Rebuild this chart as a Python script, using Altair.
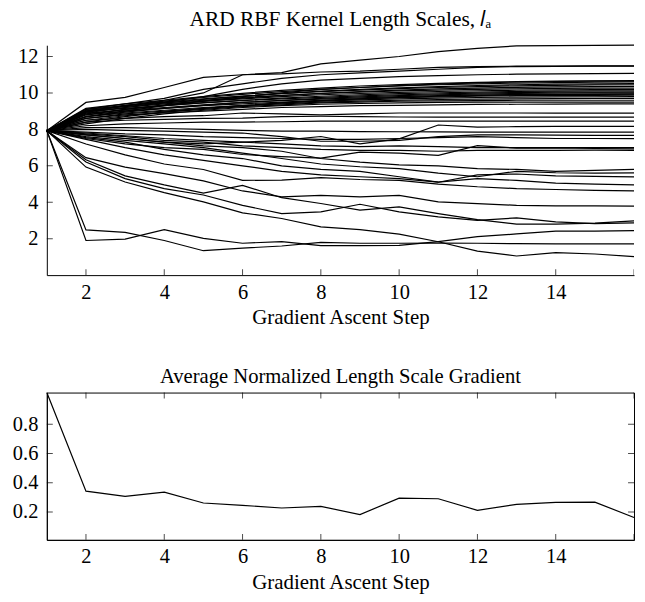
import altair as alt
import pandas as pd

steps = list(range(1, 17))

# ---- length-scale trajectories (one list per input dimension) ----
ls_01 = [7.93, 1.90, 1.98, 2.50, 2.02, 1.75, 1.84, 1.62, 1.62, 1.63, 1.84, 2.11, 2.26, 2.42, 2.42, 2.44]
ls_02 = [7.93, 2.48, 2.35, 1.90, 1.34, 1.48, 1.60, 1.80, 1.75, 1.75, 1.76, 1.75, 1.73, 1.72, 1.72, 1.71]
ls_03 = [7.93, 5.93, 5.11, 4.53, 4.02, 3.42, 3.11, 2.65, 2.50, 2.25, 1.83, 1.32, 1.05, 1.23, 1.16, 1.02]
ls_04 = [7.93, 6.21, 5.30, 4.75, 4.40, 3.83, 3.38, 3.47, 3.89, 3.47, 3.20, 3.01, 3.14, 2.92, 2.83, 2.87]
ls_05 = [7.93, 6.33, 5.45, 4.95, 4.50, 4.93, 4.25, 3.93, 3.57, 3.75, 3.38, 3.05, 2.80, 2.80, 2.85, 2.98]
ls_06 = [7.93, 6.45, 5.93, 5.57, 5.17, 4.62, 4.30, 4.38, 4.30, 4.38, 4.02, 3.93, 3.83, 3.80, 3.80, 3.79]
ls_07 = [7.93, 7.20, 6.60, 6.10, 5.80, 5.20, 5.22, 5.35, 5.25, 5.20, 5.00, 4.85, 4.75, 4.70, 4.65, 4.62]
ls_08 = [7.93, 7.45, 7.00, 6.60, 6.30, 6.00, 5.70, 5.50, 5.40, 5.30, 5.10, 5.30, 5.20, 5.05, 5.00, 4.95]
ls_09 = [7.93, 7.55, 7.30, 6.90, 6.60, 6.40, 6.00, 5.80, 5.70, 5.40, 5.10, 5.50, 5.55, 5.45, 5.42, 5.39]
ls_10 = [7.93, 7.60, 7.40, 7.20, 7.00, 6.70, 6.40, 6.10, 5.95, 5.85, 5.60, 5.40, 5.70, 5.62, 5.60, 5.61]
ls_11 = [7.93, 7.70, 7.50, 7.30, 7.10, 7.00, 6.80, 6.40, 6.20, 6.05, 6.00, 5.85, 5.80, 5.70, 5.75, 5.81]
ls_12 = [7.93, 7.75, 7.60, 7.40, 7.30, 7.10, 7.00, 6.90, 6.85, 6.85, 6.80, 6.85, 6.85, 6.85, 6.86, 6.85]
ls_13 = [7.93, 7.50, 7.20, 7.00, 6.90, 6.62, 6.50, 6.42, 6.75, 6.70, 6.57, 7.11, 6.97, 6.99, 6.95, 6.93]
ls_14 = [7.93, 7.80, 7.65, 7.50, 7.40, 7.30, 7.20, 7.10, 7.05, 7.10, 7.05, 7.00, 7.00, 7.00, 7.00, 7.00]
ls_15 = [7.93, 7.70, 7.50, 7.30, 7.20, 7.30, 7.40, 7.61, 7.21, 7.48, 8.24, 8.12, 8.15, 8.16, 8.16, 8.16]
ls_16 = [7.93, 7.85, 7.75, 7.70, 7.60, 7.55, 7.50, 7.45, 7.45, 7.50, 7.55, 7.60, 7.55, 7.50, 7.50, 7.49]
ls_17 = [7.93, 8.00, 7.95, 7.90, 7.85, 7.80, 7.60, 7.35, 7.35, 7.40, 7.60, 7.70, 7.70, 7.68, 7.67, 7.67]
ls_18 = [7.93, 8.10, 8.10, 8.05, 8.00, 7.95, 7.90, 7.90, 7.88, 7.87, 7.86, 7.85, 7.85, 7.85, 7.85, 7.85]
ls_19 = [7.93, 8.20, 8.30, 8.35, 8.40, 8.40, 8.42, 8.45, 8.45, 8.45, 8.45, 8.45, 8.45, 8.45, 8.45, 8.45]
ls_20 = [7.93, 8.40, 8.50, 8.55, 8.60, 8.62, 8.70, 8.72, 8.70, 8.68, 8.67, 8.67, 8.67, 8.67, 8.67, 8.67]
ls_21 = [7.93, 8.50, 8.60, 8.70, 8.75, 8.90, 8.85, 8.80, 8.85, 8.90, 8.90, 8.90, 8.90, 8.89, 8.89, 8.89]
ls_22 = [7.93, 8.60, 8.80, 8.90, 9.00, 9.10, 9.20, 9.25, 9.30, 9.32, 9.35, 9.37, 9.38, 9.39, 9.40, 9.40]
ls_23 = [7.93, 8.30, 8.60, 8.85, 9.05, 9.20, 9.30, 9.38, 9.42, 9.46, 9.48, 9.50, 9.50, 9.50, 9.50, 9.50]
ls_24 = [7.93, 8.50, 8.75, 8.95, 9.10, 9.25, 9.35, 9.45, 9.50, 9.55, 9.57, 9.58, 9.60, 9.60, 9.60, 9.60]
ls_25 = [7.93, 8.70, 8.90, 9.05, 9.20, 9.30, 9.40, 9.50, 9.55, 9.60, 9.64, 9.66, 9.68, 9.69, 9.70, 9.70]
ls_26 = [7.93, 8.60, 8.85, 9.00, 9.15, 9.30, 9.45, 9.55, 9.62, 9.68, 9.72, 9.75, 9.77, 9.78, 9.79, 9.80]
ls_27 = [7.93, 8.80, 9.00, 9.15, 9.30, 9.40, 9.50, 9.60, 9.68, 9.74, 9.78, 9.82, 9.85, 9.86, 9.87, 9.88]
ls_28 = [7.93, 8.90, 9.05, 9.20, 9.35, 9.48, 9.58, 9.66, 9.73, 9.80, 9.85, 9.88, 9.91, 9.93, 9.94, 9.95]
ls_29 = [7.93, 8.70, 8.95, 9.15, 9.32, 9.48, 9.60, 9.70, 9.78, 9.85, 9.90, 9.94, 9.97, 9.99, 10.00, 10.00]
ls_30 = [7.93, 9.00, 9.15, 9.30, 9.45, 9.58, 9.68, 9.76, 9.84, 9.90, 9.95, 9.99, 10.02, 10.04, 10.05, 10.06]
ls_31 = [7.93, 8.85, 9.10, 9.30, 9.47, 9.60, 9.72, 9.82, 9.90, 9.96, 10.01, 10.05, 10.08, 10.10, 10.11, 10.12]
ls_32 = [7.93, 8.95, 9.20, 9.40, 9.55, 9.68, 9.80, 9.90, 9.97, 10.03, 10.08, 10.12, 10.15, 10.17, 10.18, 10.19]
ls_33 = [7.93, 9.05, 9.25, 9.45, 9.60, 9.75, 9.87, 9.97, 10.05, 10.11, 10.16, 10.20, 10.23, 10.25, 10.26, 10.27]
ls_34 = [7.93, 8.80, 9.10, 9.35, 9.55, 9.72, 9.86, 9.98, 10.08, 10.16, 10.22, 10.27, 10.31, 10.33, 10.35, 10.36]
ls_35 = [7.93, 9.10, 9.30, 9.50, 9.68, 9.83, 9.96, 10.07, 10.16, 10.24, 10.30, 10.35, 10.39, 10.42, 10.44, 10.45]
ls_36 = [7.93, 8.90, 9.20, 9.45, 9.65, 9.82, 9.97, 10.10, 10.20, 10.28, 10.35, 10.41, 10.45, 10.48, 10.50, 10.52]
ls_37 = [7.93, 9.00, 9.30, 9.55, 9.75, 9.92, 10.07, 10.20, 10.30, 10.38, 10.45, 10.50, 10.54, 10.57, 10.59, 10.60]
ls_38 = [7.93, 9.15, 9.40, 9.60, 9.80, 9.98, 10.14, 10.27, 10.38, 10.46, 10.53, 10.58, 10.62, 10.65, 10.67, 10.68]
ls_39 = [7.93, 8.70, 9.00, 9.30, 9.55, 9.80, 10.00, 10.20, 10.30, 10.40, 10.48, 10.55, 10.60, 10.63, 10.65, 10.65]
ls_40 = [7.93, 8.40, 8.70, 8.95, 9.15, 9.30, 9.45, 9.58, 9.68, 9.76, 9.82, 9.86, 9.89, 9.91, 9.92, 9.93]
ls_41 = [7.93, 8.95, 9.30, 9.50, 9.80, 10.20, 10.50, 10.70, 10.80, 10.90, 10.95, 11.00, 11.03, 11.05, 11.06, 11.07]
ls_42 = [7.93, 9.10, 9.40, 9.70, 10.20, 10.50, 10.80, 11.00, 11.10, 11.20, 11.30, 11.40, 11.45, 11.46, 11.47, 11.47]
ls_43 = [7.93, 9.00, 9.30, 9.60, 10.00, 11.00, 11.05, 11.15, 11.20, 11.30, 11.40, 11.45, 11.47, 11.48, 11.49, 11.49]
ls_44 = [7.93, 9.48, 9.76, 10.30, 10.85, 11.00, 11.12, 11.60, 11.80, 12.00, 12.27, 12.45, 12.58, 12.60, 12.61, 12.62]

length_scale_lines = [
    ls_01, ls_02, ls_03, ls_04, ls_05, ls_06, ls_07, ls_08, ls_09, ls_10, ls_11,
    ls_12, ls_13, ls_14, ls_15, ls_16, ls_17, ls_18, ls_19, ls_20, ls_21, ls_22,
    ls_23, ls_24, ls_25, ls_26, ls_27, ls_28, ls_29, ls_30, ls_31, ls_32, ls_33,
    ls_34, ls_35, ls_36, ls_37, ls_38, ls_39, ls_40, ls_41, ls_42, ls_43, ls_44,
]

# ---- average normalized gradient ----
grad_avg = [1.016, 0.342, 0.306, 0.335, 0.261, 0.245, 0.227, 0.238,
            0.182, 0.294, 0.290, 0.211, 0.252, 0.265, 0.267, 0.162]

# ---- ticks / labels ----
x_tick_values = [2, 4, 6, 8, 10, 12, 14, 16]
x_label_values = [2, 4, 6, 8, 10, 12, 14]
top_y_values = [2, 4, 6, 8, 10, 12]
bot_y_values = [0.2, 0.4, 0.6, 0.8]

top_title = "ARD RBF Kernel Length Scales, 𝑙ₐ"
bot_title = "Average Normalized Length Scale Gradient"
x_title = "Gradient Ascent Step"

rows = []
for i, series in enumerate(length_scale_lines):
    for s, v in zip(steps, series):
        rows.append({"line": f"d{i + 1}", "step": s, "value": v})
df_top = pd.DataFrame(rows)
df_bot = pd.DataFrame({"step": steps, "grad": grad_avg})
df_xt = pd.DataFrame({"t": x_tick_values})
df_yt_top = pd.DataFrame({"t": top_y_values})
df_yt_bot = pd.DataFrame({"t": bot_y_values})

FONT = "Liberation Serif"
W = 590
LABEL_SIZE = 20.5
x_scale = alt.Scale(domain=[1, 16], nice=False, zero=False)
top_y_scale = alt.Scale(domain=[0, 12.62], nice=False, zero=False)
bot_y_scale = alt.Scale(domain=[0.009, 1.016], nice=False, zero=False)


def x_axis():
    return alt.Axis(values=x_label_values, title=x_title, ticks=False, tickSize=0,
                    grid=False, labelFont=FONT, labelFontSize=LABEL_SIZE,
                    labelColor="black", labelPadding=7, titleFont=FONT,
                    titleFontSize=21, titleFontWeight="normal", titleColor="black",
                    titlePadding=4, domainColor="black", domainWidth=1)


def y_axis(vals, fmt):
    return alt.Axis(values=vals, format=fmt, title=None, ticks=False, tickSize=0,
                    grid=False, labelFont=FONT, labelFontSize=LABEL_SIZE,
                    labelColor="black", labelPadding=9, domainColor="black",
                    domainWidth=1, minExtent=38, maxExtent=38)


tick_style = dict(size=12, thickness=1, color="black", clip=True)

# ---- top panel ----
top_lines = alt.Chart(df_top).mark_line(color="black", strokeWidth=1.2).encode(
    x=alt.X("step:Q", scale=x_scale, axis=x_axis()),
    y=alt.Y("value:Q", scale=top_y_scale, axis=y_axis(top_y_values, "d")),
    detail="line:N",
)
top_xt = alt.Chart(df_xt).mark_tick(orient="vertical", **tick_style).encode(
    x=alt.X("t:Q", axis=x_axis()), y=alt.datum(0))
top_yt = alt.Chart(df_yt_top).mark_tick(orient="horizontal", **tick_style).encode(
    y=alt.Y("t:Q", axis=y_axis(top_y_values, "d")), x=alt.datum(1))

top = alt.layer(top_lines, top_xt, top_yt).properties(
    width=W, height=231,
    title=alt.TitleParams(top_title, font=FONT, fontSize=21.5, fontWeight="normal",
                          color="black", anchor="middle", frame="group", offset=12),
)

# ---- bottom panel ----
bot_line = alt.Chart(df_bot).mark_line(color="black", strokeWidth=1.2).encode(
    x=alt.X("step:Q", scale=x_scale, axis=x_axis()),
    y=alt.Y("grad:Q", scale=bot_y_scale, axis=y_axis(bot_y_values, ".1f")),
)
bot_xt_b = alt.Chart(df_xt).mark_tick(orient="vertical", **tick_style).encode(
    x=alt.X("t:Q", axis=x_axis()), y=alt.datum(0.009))
bot_xt_t = alt.Chart(df_xt).mark_tick(orient="vertical", **tick_style).encode(
    x=alt.X("t:Q", axis=x_axis()), y=alt.datum(1.016))
bot_yt_l = alt.Chart(df_yt_bot).mark_tick(orient="horizontal", **tick_style).encode(
    y=alt.Y("t:Q", axis=y_axis(bot_y_values, ".1f")), x=alt.datum(1))
bot_yt_r = alt.Chart(df_yt_bot).mark_tick(orient="horizontal", **tick_style).encode(
    y=alt.Y("t:Q", axis=y_axis(bot_y_values, ".1f")), x=alt.datum(16))

bottom = alt.layer(bot_line, bot_xt_b, bot_xt_t, bot_yt_l, bot_yt_r).properties(
    width=W, height=148,
    view=alt.ViewBackground(stroke="black", strokeWidth=1),
    title=alt.TitleParams(bot_title, font=FONT, fontSize=20.7, fontWeight="normal",
                          color="black", anchor="middle", frame="group", offset=3),
)

chart = alt.vconcat(top, bottom, spacing=37).properties(
    padding={"left": 0, "top": 0, "right": 0, "bottom": 0},
    background="white",
).configure_view(strokeWidth=0)

chart.save("out.html", embed_options={"renderer": "svg", "actions": False})
